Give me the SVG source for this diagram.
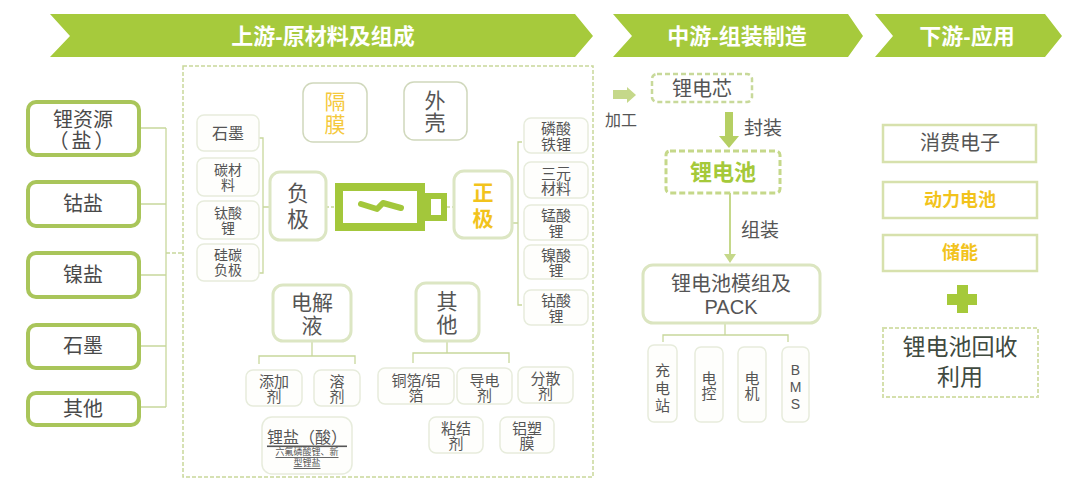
<svg xmlns="http://www.w3.org/2000/svg" width="1082" height="491" viewBox="0 0 1082 491">
<style>
text{font-family:'Liberation Sans','Noto Sans CJK SC',sans-serif;text-anchor:middle;dominant-baseline:central;fill:#555}
.ban{fill:#a6ca3c}
.bt{fill:#fff;font-weight:bold;font-size:22px}
.lbox{fill:#fff;stroke:#a9c55a;stroke-width:4}
.sbox{fill:#fefefc;stroke:#e7ecdc;stroke-width:1.5}
.mbox{fill:#fff;stroke:#dce6c3;stroke-width:3}
.gbox{fill:#fff;stroke:#d0d8bc;stroke-width:1.5}
.rbox{fill:#fff;stroke:#d7e1ad;stroke-width:2.5}
.conn{fill:none;stroke:#c8d79c;stroke-width:1.3}
.l20{font-size:20px;fill:#4a4a4a}
.s15{font-size:15px}
.s14{font-size:14px}
.m21{font-size:21px}
.yel{fill:#f2c31c;font-weight:bold}
</style>
<rect width="1082" height="491" fill="#fff"/>

<g id="banners">
<polygon class="ban" points="50,14 575,14 593,36 575,57 50,57 70,36"/>
<text class="bt" x="323" y="36">上游-原材料及组成</text>
<polygon class="ban" points="613,14 848,14 863,36 848,57 613,57 632,36"/>
<text class="bt" x="737" y="36">中游-组装制造</text>
<polygon class="ban" points="875,14 1045,14 1062,36 1045,57 875,57 893,36"/>
<text class="bt" x="967" y="36">下游-应用</text>
</g>

<g id="connectors">
<path class="conn" d="M139,128 H166 M139,204 H166 M139,275 H166 M139,346 H166 M139,407 H166 M166,128 V407"/>
<path class="conn" d="M166,253 H183" stroke-dasharray="4 2"/>
<path class="conn" d="M259,138 H263 V273 H259 M263,207 H270"/>
<path class="conn" d="M326,207 H335 M447,207 H454" stroke-dasharray="3 2"/>
<path class="conn" d="M522,142 H518 V305 H522 M512,223 H518"/>
<path class="conn" d="M312,341 V356 M259,364 V356 H355 V364"/>
<path class="conn" d="M447,341 V353 M413,363 V353 H509 V363"/>
<path class="conn" d="M725,323 V335 M663,342 V335 H788 V342"/>
<line x1="730" y1="193" x2="730" y2="256" stroke="#c5d88a" stroke-width="2"/>
<polygon points="724,254 736,254 730,263" fill="#c5d88a"/>
<polygon points="613,90 627,90 627,87 636,95 627,103 627,99 613,99" fill="#c5d88a"/>
<rect x="725" y="112" width="8" height="25" fill="#b5cf63"/>
<polygon points="719,136 739,136 729,148" fill="#b5cf63"/>
</g>

<rect id="upstream-frame" x="183" y="66" width="410" height="411" fill="none" stroke="#c9d89a" stroke-width="1.5" stroke-dasharray="4 2"/>

<g id="n-lithium"><rect class="lbox" x="28" y="102" width="111" height="53" rx="8"/><text class="l20" x="83" y="120">锂资源</text><text class="l20" x="83" y="141" letter-spacing="3">（盐）</text></g>
<g id="n-cobalt"><rect class="lbox" x="28" y="182" width="111" height="44" rx="8"/><text class="l20" x="83" y="204">钴盐</text></g>
<g id="n-nickel"><rect class="lbox" x="28" y="253" width="111" height="44" rx="8"/><text class="l20" x="83" y="275">镍盐</text></g>
<g id="n-graphite"><rect class="lbox" x="28" y="325" width="111" height="43" rx="8"/><text class="l20" x="83" y="346">石墨</text></g>
<g id="n-other"><rect class="lbox" x="28" y="393" width="111" height="32" rx="8"/><text class="l20" x="83" y="409">其他</text></g>

<g id="n-an1"><rect class="sbox" x="197" y="115" width="62" height="36" rx="7"/><text x="228" y="133" font-size="16">石墨</text></g>
<g id="n-an2"><rect class="sbox" x="197" y="158" width="62" height="38" rx="7"/><text class="s14" x="228" y="170">碳材</text><text class="s14" x="228" y="185">料</text></g>
<g id="n-an3"><rect class="sbox" x="197" y="201" width="62" height="38" rx="7"/><text class="s14" x="228" y="213">钛酸</text><text class="s14" x="228" y="228">锂</text></g>
<g id="n-an4"><rect class="sbox" x="197" y="244" width="62" height="37" rx="7"/><text class="s14" x="228" y="255">硅碳</text><text class="s14" x="228" y="270">负极</text></g>

<g id="n-anode"><rect class="mbox" x="270" y="172" width="56" height="68" rx="10"/><text x="298" y="193" font-size="22">负</text><text x="298" y="219" font-size="22">极</text></g>

<g id="n-battery" fill="none" stroke="#a3c73b">
<rect x="339" y="187" width="82" height="40" stroke-width="8"/>
<rect x="428" y="196" width="16" height="22" stroke-width="6"/>
<path d="M361,204 L377,209 L383,203 L401,208" stroke-width="6" stroke-linecap="round" stroke-linejoin="round"/>
</g>

<g id="n-cathode"><rect class="mbox" x="454" y="171" width="58" height="67" rx="10"/><text class="yel" x="483" y="192" font-size="21">正</text><text class="yel" x="483" y="218" font-size="21">极</text></g>
<g id="n-sep"><rect class="gbox" x="303" y="83" width="64" height="59" rx="10"/><text x="335" y="101" font-size="21" style="fill:#f5c93c">隔</text><text x="335" y="124" font-size="21" style="fill:#f5c93c">膜</text></g>
<g id="n-shell"><rect class="gbox" x="404" y="82" width="63" height="58" rx="10"/><text class="m21" x="435" y="100">外</text><text class="m21" x="435" y="122">壳</text></g>

<g id="n-ca1"><rect class="sbox" x="524" y="118" width="64" height="35" rx="7"/><text class="s15" x="556" y="128">磷酸</text><text class="s15" x="556" y="144">铁锂</text></g>
<g id="n-ca2"><rect class="sbox" x="524" y="162" width="64" height="36" rx="7"/><text class="s15" x="556" y="173">三元</text><text class="s15" x="556" y="188">材料</text></g>
<g id="n-ca3"><rect class="sbox" x="524" y="205" width="64" height="35" rx="7"/><text class="s15" x="556" y="215">锰酸</text><text class="s15" x="556" y="231">锂</text></g>
<g id="n-ca4"><rect class="sbox" x="524" y="245" width="64" height="34" rx="7"/><text class="s15" x="556" y="255">镍酸</text><text class="s15" x="556" y="270">锂</text></g>
<g id="n-ca5"><rect class="sbox" x="524" y="290" width="64" height="35" rx="7"/><text class="s15" x="556" y="300">钴酸</text><text class="s15" x="556" y="316">锂</text></g>

<g id="n-electrolyte"><rect class="mbox" x="273" y="285" width="78" height="56" rx="10"/><text class="m21" x="312" y="302">电解</text><text class="m21" x="312" y="325">液</text></g>
<g id="n-other2"><rect class="mbox" x="416" y="283" width="63" height="58" rx="10"/><text class="m21" x="447" y="301">其</text><text class="m21" x="447" y="324">他</text></g>

<g id="n-add"><rect class="sbox" x="246" y="370" width="56" height="36" rx="7"/><text class="s15" x="274" y="381">添加</text><text class="s15" x="274" y="396">剂</text></g>
<g id="n-solv"><rect class="sbox" x="314" y="370" width="46" height="36" rx="7"/><text class="s15" x="337" y="381">溶</text><text class="s15" x="337" y="396">剂</text></g>
<g id="n-salt"><rect class="sbox" x="262" y="417" width="90" height="57" rx="10"/><text x="307" y="437" font-size="16" text-decoration="underline">锂盐（酸）</text><text x="307" y="452" font-size="9" text-decoration="underline">六氟磷酸锂、新</text><text x="307" y="463" font-size="9" text-decoration="underline">型锂盐</text></g>

<g id="n-foil"><rect class="sbox" x="378" y="368" width="76" height="36" rx="7"/><text class="s15" x="416" y="380">铜箔/铝</text><text class="s15" x="416" y="395">箔</text></g>
<g id="n-cond"><rect class="sbox" x="457" y="368" width="55" height="36" rx="7"/><text class="s15" x="484.5" y="380">导电</text><text class="s15" x="484.5" y="395">剂</text></g>
<g id="n-disp"><rect class="sbox" x="518" y="367" width="55" height="36" rx="7"/><text class="s15" x="545.5" y="378">分散</text><text class="s15" x="545.5" y="393">剂</text></g>
<g id="n-bind"><rect class="sbox" x="429" y="417" width="54" height="36" rx="7"/><text class="s15" x="456" y="428">粘结</text><text class="s15" x="456" y="443">剂</text></g>
<g id="n-film"><rect class="sbox" x="500" y="417" width="54" height="36" rx="7"/><text class="s15" x="527" y="428">铝塑</text><text class="s15" x="527" y="443">膜</text></g>

<text x="621" y="120" font-size="16">加工</text>
<g id="n-cell"><rect x="652" y="74" width="100" height="28" rx="5" fill="#fff" stroke="#c8d99a" stroke-width="2.5" stroke-dasharray="5 3"/><text x="702" y="89" font-size="20">锂电芯</text></g>
<text x="763" y="128" font-size="19">封装</text>
<g id="n-batt"><rect x="666" y="151" width="114" height="42" rx="4" fill="#fff" stroke="#c5d88a" stroke-width="3" stroke-dasharray="6 3"/><text x="723" y="172" font-size="22" font-weight="bold" style="fill:#a5c93a">锂电池</text></g>
<text x="760" y="230" font-size="19">组装</text>
<g id="n-pack"><rect x="643" y="265" width="177" height="58" rx="10" fill="#fff" stroke="#dbe5c0" stroke-width="3"/><text x="731" y="284" font-size="20">锂电池模组及</text><text x="731" y="307" font-size="20">PACK</text></g>

<g id="n-charge"><rect class="sbox" x="648" y="345" width="29" height="77" rx="6"/><text class="s15" x="662.5" y="370">充</text><text class="s15" x="662.5" y="388">电</text><text class="s15" x="662.5" y="405">站</text></g>
<g id="n-ctrl"><rect class="sbox" x="695" y="347" width="28" height="75" rx="6"/><text class="s15" x="709" y="378">电</text><text class="s15" x="709" y="393">控</text></g>
<g id="n-motor"><rect class="sbox" x="738" y="347" width="28" height="75" rx="6"/><text class="s15" x="752" y="378">电</text><text class="s15" x="752" y="393">机</text></g>
<g id="n-bms"><rect class="sbox" x="782" y="347" width="27" height="75" rx="6"/><text class="s14" x="795.5" y="370">B</text><text class="s14" x="795.5" y="387">M</text><text class="s14" x="795.5" y="404">S</text></g>

<g id="n-consumer"><rect class="rbox" x="883" y="125" width="153" height="37"/><text x="960" y="143" font-size="20">消费电子</text></g>
<g id="n-power"><rect class="rbox" x="883" y="182" width="154" height="36"/><text class="yel" x="960" y="200" font-size="18">动力电池</text></g>
<g id="n-storage"><rect class="rbox" x="883" y="235" width="154" height="36"/><text class="yel" x="960" y="253" font-size="18">储能</text></g>
<g id="plus" fill="#a5c93a"><rect x="947" y="294" width="30" height="11"/><rect x="957" y="285" width="11" height="28"/></g>
<g id="n-recycle"><rect x="883" y="328" width="155" height="69" fill="#fff" stroke="#d5e0ad" stroke-width="2" stroke-dasharray="4 2"/><text x="960" y="347" font-size="23" style="fill:#404a40">锂电池回收</text><text x="960" y="377" font-size="23" style="fill:#404a40">利用</text></g>
</svg>
